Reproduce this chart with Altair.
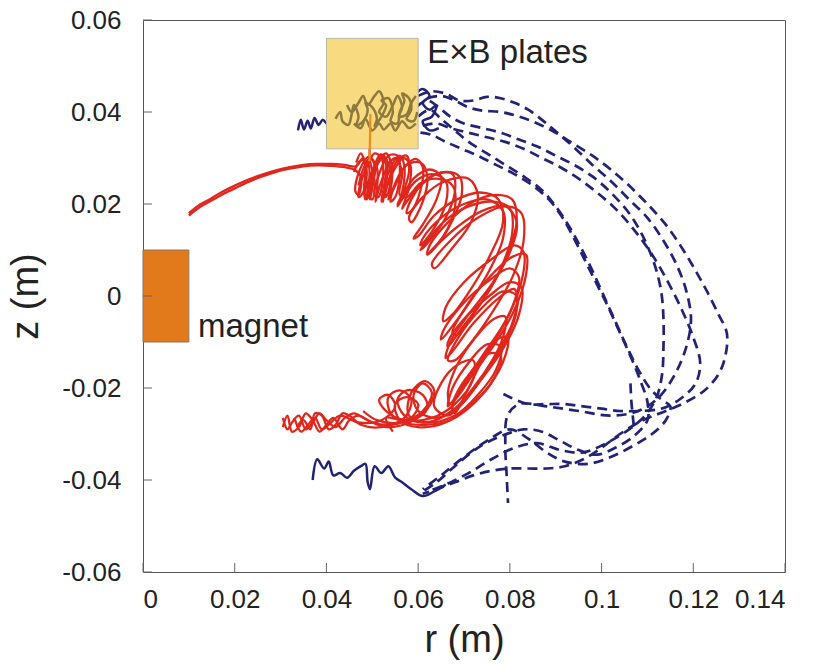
import altair as alt
import pandas as pd

# ---------------- data (all coordinates in millimetres) ----------------
x_ticks = [0, 20, 40, 60, 80, 100, 120, 140]
y_ticks = [-60, -40, -20, 0, 20, 40, 60]

magnet_box = {"r": [0], "r2": [10], "z": [-10], "z2": [10]}
plates_box = {"r": [40], "r2": [60], "z": [32], "z2": [56]}

labels = ["E×B plates", "magnet"]
label_r = [62, 12]
label_z = [52.8, -6.7]

red_1 = [(10,18),(12,19.6),(14.5,21),(17,22.5),(20,24),(23,25.3),(26,26.4),(29,27.3),(32,28),(35,28.5),(38,28.7),(41,28.7),(44,28.5),(46.5,28.2),
         (48,30),(48.8,27),(48,22.5),(47,21.5),(47.3,24),(49,28.5),(50.5,31),(52,30),(52.3,25.5),(51.3,21.5),(50.5,22),(51.5,26.5),(53.5,30.5),
         (55.5,30.5),(56,26.5),(55,21.5),(54,20.5),(54.6,23.5),(57,28),(59.5,29.8),(61,28),(60.5,23),(58.5,18.5),(57.5,18),(58.5,21),(62,25.5),
         (66,27),(69,26),(69.5,22),(67.5,16.5),(64.5,11.5),(62,9),(62.5,11),(66.5,16),(72,20.5),(77,22),(80.5,21),(81.5,16.5),(79.5,9),(76,2),
         (72,-4),(68.5,-8.5),(67.5,-8),(70,-3),(75,3.5),(80.5,8.5),(83.5,9),(83.5,4.5),(81,-3),(77,-10),(72,-17),(68.5,-22),(67,-23.5),(66.5,-21),
         (68.5,-15),(72.5,-9),(76.5,-5),(79,-4.5),(78.5,-9),(75,-16),(70.5,-22),(66,-26),(61,-27.5),(57,-26),(55.5,-22.5),(57.5,-20.5),(61,-21.5),
         (62,-24.5),(58,-27.5),(53,-28.5),(49,-27),(46,-25.5),(44,-26.5),(42,-28.5),(40,-27),(38.5,-25.5),(37,-27.5),(35.5,-29),(34,-26),
         (32.5,-27.5),(31.5,-29),(30.5,-26.5)]
red_2 = [(10,17.5),(12.5,19.4),(15,20.8),(17.5,22.2),(20,23.4),(23,24.8),(26,26),(29,27),(32,27.7),(35,28.2),(38,28.4),(41,28.3),(44,28),(46,27.5),
         (47.5,26),(47,22),(46.3,22.8),(47.3,27.5),(49.3,30.3),(50.5,28.5),(50,23.5),(49.5,21),(49.5,23.5),(51,28.5),(52.5,30),(53.8,28),(53.5,22.5),
         (52.8,21.5),(53.5,25),(55.5,29.5),(57.5,30.5),(58,27),(56.5,22),(55.5,20),(56.5,21.5),(59,25.5),(62.5,27.5),(65,26),(64,21),(61,15.5),
         (59,12.5),(60,13),(63.5,17.5),(68.5,21),(73.5,22.5),(77.5,21),(78.5,16),(75.5,8.5),(71.5,1.5),(67.5,-4),(65.5,-5.5),(66,-2.5),(70,3),(76,8),
         (81,11),(83,9.5),(82.5,3),(79,-5.5),(74,-13),(70,-19),(67.5,-24),(68,-25.5),(70.5,-21),(74,-14),(77,-9.5),(79.5,-9),(79,-13),(75.5,-19.5),
         (71,-24),(66,-27.5),(60,-28.5),(56,-27),(55,-23.5),(57.5,-22),(60,-23.5),(58.5,-26.5),(54,-28),(50,-27.5),(47,-26),(45,-27),(43.5,-29),
         (41.5,-26.5),(40,-28),(38.5,-29.5),(37,-27),(35.5,-25.5),(34,-28.5),(32.5,-29.5),(31.5,-26),(30.5,-28.5)]
red_3 = [(49.5,34),(49.5,29.5),(50.5,25),(50,21),(49,22),(50,27),(52,30.5),(53,28.5),(52.5,23.5),(52,20.5),(52.3,22.5),(54,28),(56,30.5),(57,28),
         (56.5,22.5),(55.5,19.5),(56.5,21),(59.5,25),(63,26.5),(66,25),(66,20),(63,14),(60.5,11),(61,12.5),(65,17),(70,20),(75,21),(78.5,18.5),
         (78.5,12.5),(75.5,5.5),(71.5,-1),(67.5,-6.5),(65,-9.5),(65.5,-7.5),(69.5,-2),(75,3),(80,6),(82,4),(80.5,-2.5),(76.5,-10),(72,-16.5),
         (68.5,-21.5),(66.5,-24),(67.5,-20),(71,-14.5),(75,-10.5),(78,-11),(77,-16),(73,-21.5),(68,-26),(62,-27.5),(58,-26),(58.5,-21),(61.5,-18.5),
         (63.5,-20.5),(62,-24.5),(57.5,-27),(53,-26.5),(54.5,-29.5)]
red_4 = [(46.5,29),(47.5,31),(48.5,28),(48.2,23),(48.8,21),(50,24.5),(51.5,29.5),(53,31),(54.3,28),(54,23),(53.5,21),(55,24),(57.5,28.5),(60.5,29),
         (62,26),(61,20.5),(58.5,16),(58,17),(61,21.5),(66,25),(71,25.5),(73,22),(71.5,16),(67.5,10.5),(63.5,6),(63,7),(67,12),(73,17),(79,19.5),
         (82.5,18),(83,12),(80.5,4),(76.5,-3),(72,-9.5),(68,-14),(66.5,-14),(68.5,-9.5),(73.5,-3),(78.5,1),(81.5,0),(80.5,-6),(76.5,-13.5),(72,-20),
         (68,-24.5),(64,-26.5),(60,-25),(59,-21.5),(61,-19),(63,-21),(61,-25),(56,-27.5),(51,-27),(48,-25)]
red_5 = [(47,24),(48,27.5),(49.5,30),(51,28),(51,23),(50.7,20.5),(51.5,23.5),(53.5,28.5),(55,30),(56.5,27),(56,22),(57.5,21.5),(60.5,24.5),(64,25.5),
         (67.5,24),(68,19),(65.5,13),(62.5,9.5),(64,11),(68.5,15),(74,18.5),(79,19.5),(81.5,16),(80,9.5),(76,2.5),(71,-4),(67,-10),(66,-13.5),
         (67.5,-12),(72,-6),(77.5,-0.5),(81,1.5),(81.5,-3),(79,-10),(74.5,-17),(70,-23),(66.5,-26),(63.5,-24),(65,-19),(68.5,-15),(72,-14),(72,-18),
         (68,-23.5),(63,-26.5),(57,-27),(53,-25),(51.5,-22.5),(53.5,-21.5),(55,-24),(52,-27),(47,-27.5),(43,-26),(41,-27.5),(39,-29),(37.5,-26.5),
         (36,-28),(34.5,-29.5),(33,-26.5)]
red_6 = [(46,27),(47.5,29.5),(49,29),(49.3,24.5),(48.5,21),(48.3,22.5),(50,27),(51.8,30.8),(53.2,29.5),(53,24.5),(52.3,20.5),(52.6,22),(54.8,27.5),
         (56.8,30),(58.3,28.5),(58,23.5),(56.5,19),(56.8,19.5),(60,23.5),(64,26.5),(67.5,26.5),(68,22.5),(66,17),(62.5,12),(60.5,10),(61.5,11.5),
         (66,16.5),(71,19.5),(76.5,20.5),(80,19),(80.5,13.5),(78,6),(74,-1),(69.5,-7),(66.5,-11),(66.5,-10),(70,-5),(75.5,0),(80,3),(82.5,2),
         (82,-4),(78.5,-11.5),(73.5,-18.5),(69.5,-23.5),(67.5,-25),(68,-22),(71.5,-16.5),(75.5,-12.5),(78,-13),(76.5,-18),(72.5,-23),(67,-27),
         (61.5,-28),(57,-27.5),(54,-25.5),(53.5,-22),(56,-20.5),(58.5,-22.5),(57,-26.5),(52,-28.5),(47.5,-28),(45,-26),(43.5,-25.5),(42,-28),
         (40.5,-29),(39,-26),(37.5,-25.5),(36.5,-29),(35,-27),(33.5,-28.5)]

blue_1 = [(60,43.5),(63,44.5),(66,44),(69,42.5),(72,42.5),(75,43.3),(78,43),(81,42),(84,40.5),(87,38.3),(90,35.8),(94,32.3),(98,28.5),(102,25),
          (106,21),(110,17),(113.5,12),(116.5,6.5),(118.5,1),(119.5,-5),(118.5,-11),(116,-17),(112.5,-22),(108,-25),(102,-26),(95,-25),(88,-24),
          (82,-23.5),(79.5,-26),(79,-32),(79.3,-39),(79.6,-45)]
blue_2 = [(59.5,41),(62,42.5),(64.5,41),(67,39),(70,37.5),(74,36.5),(78,35.5),(82,34),(86,32.5),(90,30.5),(94,28.5),(98,26),(102,22.5),(106,18),
          (109,13),(111.5,7),(113,1),(113.5,-5),(113.5,-11),(113.2,-17),(112,-22),(109.5,-26),(106,-29),(101,-32),(96,-34),(91,-33.5),(86,-32),
          (81,-33),(76,-35.5),(71,-38.5),(66,-41),(62,-42.5)]
blue_3 = [(60,39),(62.5,40.5),(65,38.5),(68,36),(71,33.5),(75,31),(79,28.5),(83,26),(87,23),(90,19.5),(93,15),(95.5,10.5),(98,5.5),(100.5,0),
          (103,-5.5),(105.5,-11),(108,-16),(110.5,-20),(113,-22.5),(115,-24),(114,-27),(111,-30),(107,-32.5),(102,-35),(97,-36.5),(92,-36),
          (88,-34),(84,-31),(80,-29),(75,-31.5),(70,-35),(65,-39),(61,-42)]
blue_4 = [(61,37),(64,37.5),(67,36.5),(71,35.5),(75,34.5),(79,33.5),(83,32),(87,30),(91,28),(95,25.5),(99,22.5),(103,19),(107,14.5),(111,9),
          (114.5,3),(117.5,-3),(120,-9),(121.5,-14.5),(120.5,-19),(117,-22.5),(113,-24.5),(108,-25),(104,-25),(100,-24.5),(96,-24),(92,-23.5),
          (88,-23.5),(84,-23.5),(80,-22),(78,-21)]
blue_5 = [(62,43),(65,43.5),(68,42.5),(71,41),(74,40.3),(78,40),(82,39),(86,37.5),(90,35.5),(94,33),(98,30.5),(102,27.5),(106,24),(110,20),
          (114,15.5),(117.5,10.5),(120.5,5.5),(123,1),(125.5,-4),(127.3,-8),(127,-13),(125.5,-17),(122.5,-20.5),(118.5,-23),(114,-25),(109,-27),
          (104,-30),(100,-33),(96,-35.5),(92,-37),(88,-37.5),(84,-37.5),(80,-37.5),(76,-38),(72,-39),(68,-40.5),(64,-42),(61,-43)]
blue_6 = [(60.5,35.5),(63,35),(66,33.5),(69.5,32),(73,30.5),(77,28.5),(81,26.5),(85,24),(88.5,21),(91.5,17),(94,12.5),(96.5,7.5),(99,2.5),
          (101.5,-2.5),(104,-8),(106.5,-13.5),(108.5,-18.5),(110,-23),(110,-27),(107,-30.5),(103,-33),(99,-34.5),(95,-33.5),(91,-31.5),
          (87,-29.5),(83,-29),(78,-30.5),(73,-33),(68,-37),(64,-40.5),(61,-42.5)]
blue_7 = [(106.3,-19),(106.5,-23),(106.8,-26),(107,-28)]

blue_tail_top = [(33.8,36),(34.4,38.3),(35.1,36.2),(35.9,38.1),(36.6,36.4),(37.4,38.7),(38.3,37.2),(39.2,38.3),(40.2,37.4),(41.2,38.4),(42,38)]
blue_tail_plate = [(59.5,44),(61,45),(62.5,43.5),(61,42),(62.5,40.5),(64,41.5),(63,39),(61,38),(62.5,36),(64.5,36.5)]
blue_tail_bottom = [(37,-40),(38,-35.5),(39.5,-37.5),(40.5,-36),(41.5,-39),(43,-38.5),(44.5,-39.5),(46,-38),(47.5,-37),(48.5,-36.5),
                    (49,-40.5),(49.5,-42),(50.5,-37),(52,-38.5),(53.5,-37),(55,-39.5),(56.5,-40.5),(58.5,-42),(61,-43.5),(63.5,-42.5),(66,-41)]

olive_1 = [(42,38.5),(43,40),(43.5,38),(44.8,37.2),(45.5,39.5),(46,41.5),(47,39),(46.5,37),(48,38),(49,40.5),(48.5,42),(50,41),(51,38.5),
           (50.5,37),(52,39),(53,41.5),(52,42.5),(53.5,43),(54.5,40),(54,38),(55.5,37.5),(56,40),(57,42.5),(56.5,44),(58,43),(58.5,40.5),
           (57.5,38.5),(59,38),(59.8,40)]
olive_2 = [(44.5,41.5),(45.5,40),(47,42),(48,43.5),(49,41.5),(50.5,43.5),(51.5,44.5),(52.5,42),(51.5,40),(53,39),(54.5,41.5),(55.5,43.5),
           (56.5,41),(55.8,39),(57.5,39.5),(58.5,42),(59.5,43.5)]
olive_3 = [(46,37.5),(47.5,36.5),(48.5,38.5),(50,36),(51.5,37.5),(52.5,36.2),(54,37.5),(55,36),(56.5,38),(58,36.5),(59.5,37.5)]

orange_line = [(49.4,29.3),(49.6,39.5)]

MM = 1000.0  # millimetres -> metres


def lines_df(named):
    rows = []
    for name, pts in named.items():
        for i, (r, z) in enumerate(pts):
            rows.append({"strand": name, "i": i, "r": r / MM, "z": z / MM})
    return pd.DataFrame(rows)


def box_df(b):
    return pd.DataFrame({k: [v / MM for v in vals] for k, vals in b.items()})


red_df = lines_df({"r1": red_1, "r2": red_2, "r3": red_3, "r4": red_4, "r5": red_5, "r6": red_6})
blue_df = lines_df({"b1": blue_1, "b2": blue_2, "b3": blue_3, "b4": blue_4, "b5": blue_5, "b6": blue_6, "b7": blue_7})
blue_solid_df = lines_df({"t1": blue_tail_top, "t2": blue_tail_plate, "t3": blue_tail_bottom})
olive_df = lines_df({"o1": olive_1, "o2": olive_2, "o3": olive_3})
orange_df = lines_df({"or": orange_line})
label_df = pd.DataFrame({"text": labels, "r": [v / MM for v in label_r], "z": [v / MM for v in label_z]})
xt_df = pd.DataFrame({"r": [v / MM for v in x_ticks]})
yt_df = pd.DataFrame({"z": [v / MM for v in y_ticks]})

FONT = "Liberation Sans"
xs = alt.Scale(domain=[0, 0.14], nice=False, zero=False)
ys = alt.Scale(domain=[-0.06, 0.06], nice=False, zero=False)
lab = "datum.value == 0 ? '0' : (datum.value < 0 ? '-' : '') + format(abs(datum.value), '.2~f')"
xaxis = alt.Axis(values=[v / MM for v in x_ticks], labelExpr=lab, domain=False, ticks=False, grid=False,
                 labelFont=FONT, labelFontSize=26, labelColor="#222", labelPadding=14,
                 titleFont=FONT, titleFontSize=38, titleFontWeight="normal", titleColor="#222", titlePadding=9)
yaxis = alt.Axis(values=[v / MM for v in y_ticks], labelExpr=lab, domain=False, ticks=False, grid=False,
                 labelFont=FONT, labelFontSize=26, labelColor="#222", labelPadding=22,
                 titleFont=FONT, titleFontSize=38, titleFontWeight="normal", titleColor="#222", titlePadding=16)

X = alt.X("r:Q", scale=xs, axis=xaxis, title="r (m)")
Y = alt.Y("z:Q", scale=ys, axis=yaxis, title="z (m)")

magnet = alt.Chart(box_df(magnet_box)).mark_rect(color="#e2791b", stroke="#8a7560", strokeWidth=1).encode(
    x=X, x2="r2:Q", y=Y, y2="z2:Q")
red = alt.Chart(red_df).mark_line(color="#e0271d", strokeWidth=2.3, interpolate="catmull-rom").encode(
    x=X, y=Y, detail="strand:N", order="i:Q")
blue = alt.Chart(blue_df).mark_line(color="#232376", strokeWidth=2.7, strokeDash=[10, 6], interpolate="catmull-rom").encode(
    x=X, y=Y, detail="strand:N", order="i:Q")
blue_solid = alt.Chart(blue_solid_df).mark_line(color="#232376", strokeWidth=2.5, interpolate="catmull-rom").encode(
    x=X, y=Y, detail="strand:N", order="i:Q")
plates = alt.Chart(box_df(plates_box)).mark_rect(color="#f8db80", stroke="#b9b7a6", strokeWidth=1).encode(
    x=X, x2="r2:Q", y=Y, y2="z2:Q")
olive = alt.Chart(olive_df).mark_line(color="#8d7a3c", strokeWidth=2.5, interpolate="catmull-rom").encode(
    x=X, y=Y, detail="strand:N", order="i:Q")
orange = alt.Chart(orange_df).mark_line(color="#ef8a1c", strokeWidth=2.2).encode(
    x=X, y=Y, order="i:Q")
texts = alt.Chart(label_df).mark_text(font=FONT, fontSize=33, align="left", baseline="middle", color="#222").encode(
    x=X, y=Y, text="text:N")
xticks = alt.Chart(xt_df).mark_rule(color="#666", strokeWidth=1, y2Offset=-9).encode(
    x=X, y=alt.datum(-0.06), y2=alt.datum(-0.06))
yticks = alt.Chart(yt_df).mark_rule(color="#666", strokeWidth=1, x2Offset=9).encode(
    y=Y, x=alt.datum(0.0), x2=alt.datum(0.0))

chart = alt.layer(magnet, red, blue, blue_solid, plates, olive, orange, texts, xticks, yticks).properties(
    width=642, height=552,
    autosize=alt.AutoSizeParams(type="none"),
    padding={"left": 143, "top": 20, "right": 31, "bottom": 93},
    background="white",
).configure_view(stroke="#555", strokeWidth=1)

chart.save("out.html", embed_options={"renderer": "svg", "actions": False})
